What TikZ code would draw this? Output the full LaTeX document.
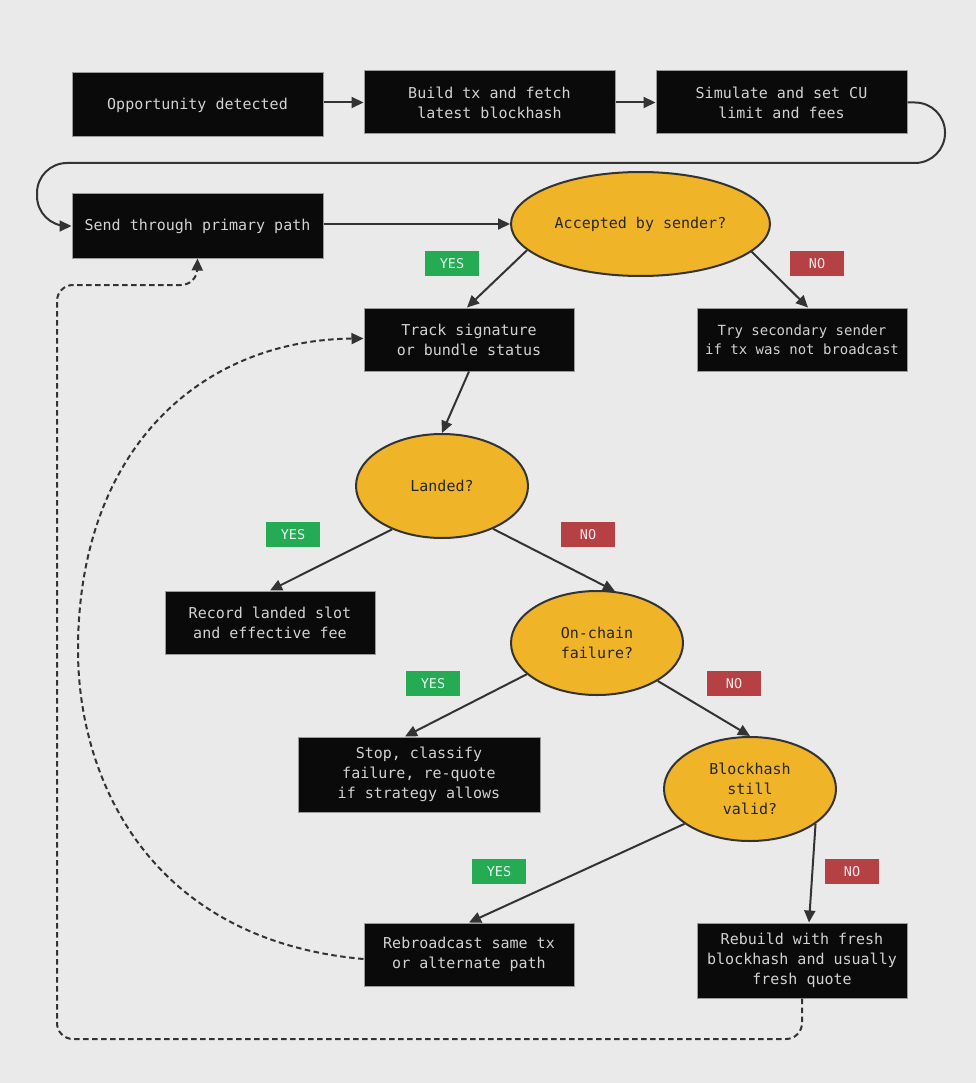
\documentclass[tikz,border=0pt]{standalone}
\usepackage{fontspec}
\setmonofont{DejaVu Sans Mono}
\usetikzlibrary{arrows.meta,shapes.geometric}
\definecolor{bgc}{HTML}{EAEAEA}
\definecolor{boxc}{HTML}{0A0A0A}
\definecolor{boxline}{HTML}{9A9A9A}
\definecolor{boxtext}{HTML}{D2D2D2}
\definecolor{decc}{HTML}{F0B429}
\definecolor{linec}{HTML}{333333}
\definecolor{yesc}{HTML}{24AB54}
\definecolor{noc}{HTML}{B54145}
\tikzset{
  stepbox/.style={draw=boxline, line width=1pt, fill=boxc, text=boxtext, align=center,
    inner sep=0pt, font=\ttfamily\fontsize{15}{20}\selectfont},
  decision/.style={ellipse, draw=linec, line width=2pt, fill=decc, text=black!85, align=center,
    inner sep=0pt, font=\ttfamily\fontsize{15}{20}\selectfont},
  yeslab/.style={fill=yesc, text=white!92!yesc, minimum width=54pt, minimum height=25pt, inner sep=0pt,
    font=\ttfamily\fontsize{13.5}{16}\selectfont},
  nolab/.style={fill=noc, text=white!88!noc, minimum width=54pt, minimum height=25pt, inner sep=0pt,
    font=\ttfamily\fontsize{13.5}{16}\selectfont},
  flow/.style={draw=linec, line width=2pt, -{Triangle[length=12pt,width=11pt]}},
  loopflow/.style={draw=linec, line width=2pt, dash pattern=on 5.5pt off 3.5pt, -{Triangle[length=12pt,width=11pt]}},
}
\begin{document}
\begin{tikzpicture}[x=1pt,y=-1pt]
\useasboundingbox (0,0) rectangle (976,1083);
\fill[bgc] (0,0) rectangle (976,1083);

\node[stepbox, minimum width=251pt, minimum height=64pt] (opp) at (197.5,105) {Opportunity detected};
\node[stepbox, minimum width=251pt, minimum height=63pt] (build) at (489.5,102.5) {Build tx and fetch\\latest blockhash};
\node[stepbox, minimum width=251pt, minimum height=63pt] (sim) at (781.5,102.5) {Simulate and set CU\\limit and fees};
\node[stepbox, minimum width=251pt, minimum height=64pt] (send) at (197.5,226) {Send through primary path};
\node[decision, minimum width=259pt, minimum height=104pt] (acc) at (640.5,224) {Accepted by sender?};
\node[stepbox, minimum width=210pt, minimum height=63pt] (track) at (469,339.5) {Track signature\\or bundle status};
\node[stepbox, minimum width=210pt, minimum height=63pt, font=\ttfamily\fontsize{14}{19}\selectfont] (trysec) at (802,339.5) {Try secondary sender\\if tx was not broadcast};
\node[decision, minimum width=172pt, minimum height=104pt] (landed) at (442,486) {Landed?};
\node[stepbox, minimum width=210pt, minimum height=63pt] (record) at (270,622.5) {Record landed slot\\and effective fee};
\node[decision, minimum width=172pt, minimum height=104pt] (onchain) at (597,643) {On-chain\\failure?};
\node[stepbox, minimum width=242pt, minimum height=75pt] (stop) at (419,774.5) {Stop, classify\\failure, re-quote\\if strategy allows};
\node[decision, minimum width=172pt, minimum height=104pt] (bh) at (750,789) {Blockhash\\still\\valid?};
\node[stepbox, minimum width=210pt, minimum height=63pt] (rebroad) at (469,954.5) {Rebroadcast same tx\\or alternate path};
\node[stepbox, minimum width=210pt, minimum height=75pt] (rebuild) at (802,960.5) {Rebuild with fresh\\blockhash and usually\\fresh quote};

\node[yeslab] (y1) at (452,263.5) {YES};
\node[nolab] (n1) at (817,263.5) {NO};
\node[yeslab] (y2) at (293,534.5) {YES};
\node[nolab] (n2) at (588,534.5) {NO};
\node[yeslab] (y3) at (433,683.5) {YES};
\node[nolab] (n3) at (734,683.5) {NO};
\node[yeslab] (y4) at (499,871.5) {YES};
\node[nolab] (n4) at (852,871.5) {NO};

\draw[flow] (opp.east |- build.west) -- (build.west);
\draw[flow] (build.east) -- (sim.west);
\draw[flow, rounded corners=30pt] (sim.east) -- (945,102.5) -- (945,163) -- (37,163) -- (37,226) -- (send.west);
\draw[flow] (send.east |- acc.west) -- (acc.west);
\draw[flow] (acc.193) -- ([xshift=-2pt]track.north);
\draw[flow] (acc.346) -- ([xshift=6pt]trysec.north);
\draw[flow] (track.south) -- (landed.north);
\draw[flow] (landed.221) -- (record.north);
\draw[flow] (landed.320) -- (onchain.71);
\draw[flow] (onchain.204) -- ([xshift=-14pt]stop.north);
\draw[flow] (onchain.328) -- (bh.north);
\draw[flow] (bh.208) -- (rebroad.north);
\draw[flow] (bh.332) -- ([xshift=7pt]rebuild.north);

\draw[loopflow] ([yshift=-4.5pt]rebroad.west) .. controls (150,940) and (78,780) .. (78,650)
  .. controls (78,450) and (200,340) .. ([yshift=1pt]track.west);
\draw[loopflow, rounded corners=16pt] (rebuild.south) -- (802,1039) -- (57,1039) -- (57,285) -- (197,285) -- (send.south);
\end{tikzpicture}
\end{document}
